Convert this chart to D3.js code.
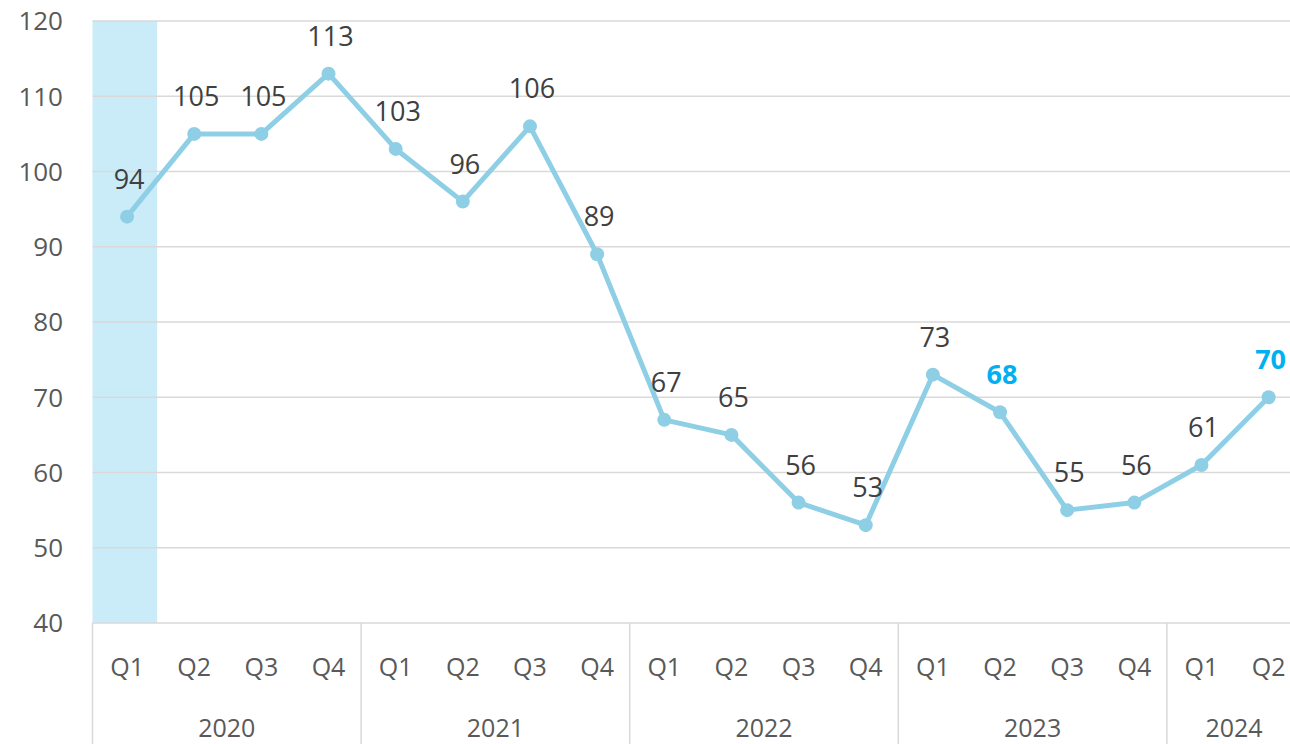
<!DOCTYPE html>
<html>
<head>
<meta charset="utf-8">
<script src="https://cdn.jsdelivr.net/npm/d3@7"></script>
<style>
  html, body { margin: 0; padding: 0; background: #fff; overflow: hidden; }
  #chart { width: 1290px; height: 744px; }
  text { font-family: "Open Sans", "Noto Sans", sans-serif; }
</style>
</head>
<body>
<div id="chart"></div>
<script>
// Quarterly values, 2020 Q1 – 2024 Q2
const quarters = ['Q1','Q2','Q3','Q4','Q1','Q2','Q3','Q4','Q1','Q2','Q3','Q4','Q1','Q2','Q3','Q4','Q1','Q2'];
const years = ['2020','2020','2020','2020','2021','2021','2021','2021','2022','2022','2022','2022','2023','2023','2023','2023','2024','2024'];
const values = [94,105,105,113,103,96,106,89,67,65,56,53,73,68,55,56,61,70];
const highlighted = [13, 17];     // labels drawn bold blue
const shadedIndex = 0;            // shaded band behind first quarter
const yTicks = [40,50,60,70,80,90,100,110,120];

const W = 1290, H = 744;
const left = 92.5, bandW = 67.15;
const keys = values.map((_, i) => i);

const svg = d3.select('#chart').append('svg')
  .attr('width', W).attr('height', H)
  .attr('viewBox', `0 0 ${W} ${H}`);

const x = d3.scaleBand().domain(keys).range([left, left + bandW * keys.length]).padding(0);
const y = d3.scaleLinear().domain([40, 120]).range([623, 21]);
const cx = i => x(i) + x.bandwidth() / 2 + 1;

// shaded band
svg.append('rect')
  .attr('x', x(shadedIndex)).attr('y', y(120))
  .attr('width', x.bandwidth() - 2.5).attr('height', y(40) - y(120))
  .attr('fill', '#c9ecf8');

// gridlines
svg.append('g').selectAll('line').data(yTicks).enter().append('line')
  .attr('x1', left).attr('x2', W)
  .attr('y1', d => y(d)).attr('y2', d => y(d))
  .attr('stroke', '#d9d9d9').attr('stroke-width', 1.5);

// y labels
svg.append('g').selectAll('text').data(yTicks).enter().append('text')
  .attr('x', 63).attr('y', d => y(d)).attr('dy', '0.36em')
  .attr('text-anchor', 'end').attr('font-size', 26).attr('fill', '#595959')
  .text(d => d);

// year separators
const yearStarts = keys.filter(i => i === 0 || years[i] !== years[i - 1]);
svg.append('g').selectAll('line').data(yearStarts).enter().append('line')
  .attr('x1', i => x(i)).attr('x2', i => x(i))
  .attr('y1', y(40)).attr('y2', H)
  .attr('stroke', '#d9d9d9').attr('stroke-width', 1.5);

// quarter labels
svg.append('g').selectAll('text').data(keys).enter().append('text')
  .attr('x', cx).attr('y', 676)
  .attr('text-anchor', 'middle').attr('font-size', 25).attr('fill', '#595959')
  .text(i => quarters[i]);

// year labels
const yearGroups = d3.groups(keys, i => years[i]);
svg.append('g').selectAll('text').data(yearGroups).enter().append('text')
  .attr('x', d => (x(d[1][0]) + x(d[1][d[1].length - 1]) + x.bandwidth()) / 2)
  .attr('y', 737)
  .attr('text-anchor', 'middle').attr('font-size', 25).attr('fill', '#595959')
  .text(d => d[0]);

// line
const line = d3.line().x(i => cx(i)).y(i => y(values[i]));
svg.append('path').datum(keys)
  .attr('d', line)
  .attr('fill', 'none').attr('stroke', '#8fcfe6')
  .attr('stroke-width', 5).attr('stroke-linejoin', 'round');

svg.append('g').selectAll('circle').data(keys).enter().append('circle')
  .attr('cx', cx).attr('cy', i => y(values[i])).attr('r', 7)
  .attr('fill', '#8fcfe6');

// data labels
svg.append('g').selectAll('text').data(keys).enter().append('text')
  .attr('x', i => cx(i) + 2).attr('y', i => y(values[i]) - 28)
  .attr('text-anchor', 'middle').attr('font-size', 27)
  .attr('font-weight', i => highlighted.includes(i) ? 700 : 400)
  .attr('fill', i => highlighted.includes(i) ? '#00b0f0' : '#404040')
  .text(i => values[i]);
</script>
</body>
</html>
